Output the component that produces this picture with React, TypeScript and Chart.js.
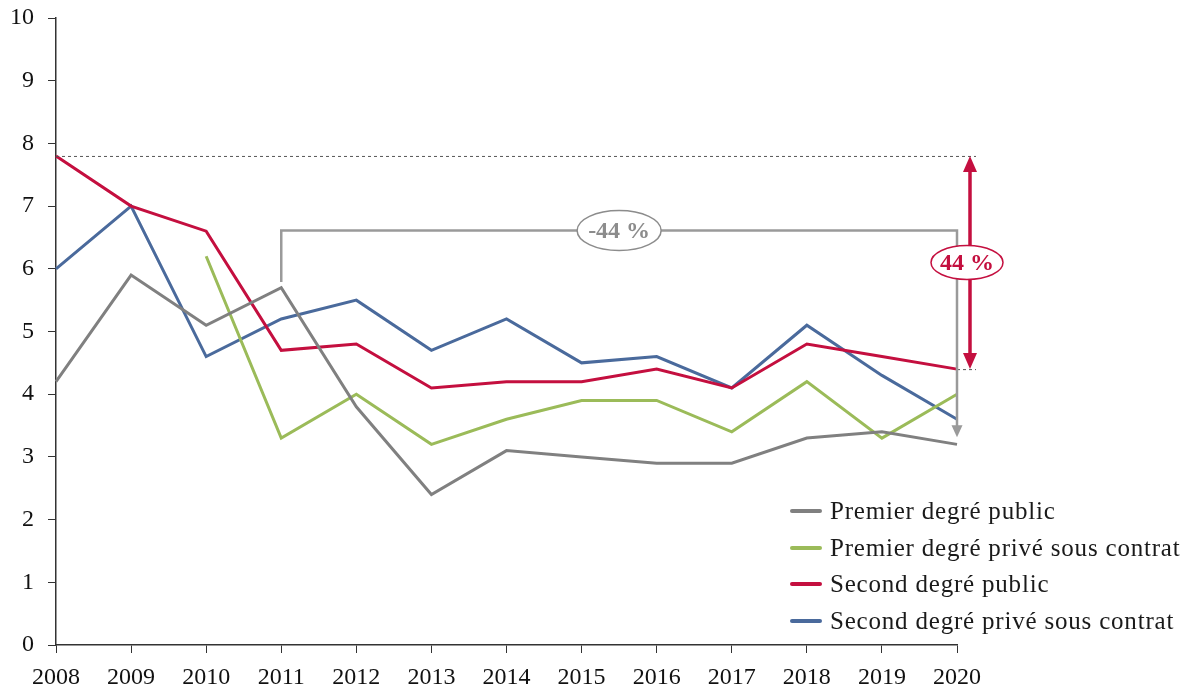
import React, { useEffect, useRef } from "react";
import { Chart, registerables } from "chart.js";

Chart.register(...registerables);

const years = ["2008", "2009", "2010", "2011", "2012", "2013", "2014", "2015", "2016", "2017", "2018", "2019", "2020"];
const premierPublic = [4.2, 5.9, 5.1, 5.7, 3.8, 2.4, 3.1, 3.0, 2.9, 2.9, 3.3, 3.4, 3.2];
const premierPrive = [null, null, 6.2, 3.3, 4.0, 3.2, 3.6, 3.9, 3.9, 3.4, 4.2, 3.3, 4.0];
const secondPublic = [7.8, 7.0, 6.6, 4.7, 4.8, 4.1, 4.2, 4.2, 4.4, 4.1, 4.8, 4.6, 4.4];
const secondPrive = [6.0, 7.0, 4.6, 5.2, 5.5, 4.7, 5.2, 4.5, 4.6, 4.1, 5.1, 4.3, 3.6];
const seriesLabels = [
  "Premier degré public",
  "Premier degré privé sous contrat",
  "Second degré public",
  "Second degré privé sous contrat",
];
const seriesColors = ["#808080", "#9BBB59", "#C40F3F", "#4A6A9C"];
const redLabel = "44 %";
const grayLabel = "-44 %";
const bracketTop = 6.61;
const bracketStart = 5.79;

const FONT = "'Liberation Serif', 'Times New Roman', serif";

function arrowHead(ctx: CanvasRenderingContext2D, x: number, y: number, dir: number, w: number, l: number) {
  ctx.beginPath();
  ctx.moveTo(x, y);
  ctx.lineTo(x - w / 2, y - dir * l);
  ctx.lineTo(x + w / 2, y - dir * l);
  ctx.closePath();
  ctx.fill();
}

function labelEllipse(ctx: CanvasRenderingContext2D, cx: number, cy: number, rx: number, ry: number, color: string, text: string) {
  ctx.beginPath();
  ctx.ellipse(cx, cy, rx, ry, 0, 0, Math.PI * 2);
  ctx.fillStyle = "#fff";
  ctx.fill();
  ctx.lineWidth = 1.5;
  ctx.strokeStyle = color;
  ctx.stroke();
  ctx.fillStyle = color;
  ctx.font = `bold 24px ${FONT}`;
  ctx.textAlign = "center";
  ctx.textBaseline = "middle";
  ctx.fillText(text, cx, cy + 1);
}

const annotationPlugin = {
  id: "annotations",
  afterDatasetsDraw(chart: any) {
    const { ctx, scales } = chart;
    const x = scales.x;
    const y = scales.y;
    const last = years.length - 1;
    const x0 = x.getPixelForValue(0);
    const xl = x.getPixelForValue(last);
    const yTop = y.getPixelForValue(secondPublic[0]);
    const yBot = y.getPixelForValue(secondPublic[last]);
    ctx.save();
    ctx.strokeStyle = "#555";
    ctx.lineWidth = 1;
    ctx.setLineDash([3, 3]);
    ctx.beginPath();
    ctx.moveTo(x0, yTop + 0.5);
    ctx.lineTo(xl + 19, yTop + 0.5);
    ctx.moveTo(xl, yBot + 0.5);
    ctx.lineTo(xl + 19, yBot + 0.5);
    ctx.stroke();
    ctx.setLineDash([]);

    const gx1 = x.getPixelForValue(3);
    const gTop = y.getPixelForValue(bracketTop);
    const gStart = y.getPixelForValue(bracketStart);
    const gEnd = y.getPixelForValue(premierPublic[last]) - 7;
    ctx.strokeStyle = "#9A9A9A";
    ctx.fillStyle = "#9A9A9A";
    ctx.lineWidth = 2.5;
    ctx.beginPath();
    ctx.moveTo(gx1, gStart);
    ctx.lineTo(gx1, gTop);
    ctx.lineTo(xl, gTop);
    ctx.lineTo(xl, gEnd - 10);
    ctx.stroke();
    arrowHead(ctx, xl, gEnd, 1, 11, 12);

    const rx = xl + 13;
    ctx.strokeStyle = "#C40F3F";
    ctx.fillStyle = "#C40F3F";
    ctx.lineWidth = 3.5;
    ctx.beginPath();
    ctx.moveTo(rx, yTop + 14);
    ctx.lineTo(rx, yBot - 14);
    ctx.stroke();
    arrowHead(ctx, rx, yTop, -1, 14, 16);
    arrowHead(ctx, rx, yBot, 1, 14, 16);

    labelEllipse(ctx, (gx1 + xl) / 2, gTop, 42, 20, "#8C8C8C", grayLabel);
    labelEllipse(ctx, rx - 3, y.getPixelForValue(6.1), 36, 17, "#C40F3F", redLabel);

    const lx = 790;
    const ly = [511, 548, 584, 621];
    ctx.font = `25px ${FONT}`;
    (ctx as any).letterSpacing = "0.8px";
    ctx.textAlign = "left";
    ctx.textBaseline = "middle";
    seriesLabels.forEach((lab, i) => {
      ctx.strokeStyle = seriesColors[i];
      ctx.lineWidth = 4;
      ctx.lineCap = "round";
      ctx.beginPath();
      ctx.moveTo(lx + 2, ly[i]);
      ctx.lineTo(lx + 30, ly[i]);
      ctx.stroke();
      ctx.fillStyle = "#1a1a1a";
      ctx.fillText(lab, lx + 40, ly[i] + 1);
    });
    (ctx as any).letterSpacing = "0px";
    ctx.restore();
  },
};

export default function App() {
  const ref = useRef<HTMLCanvasElement>(null);
  useEffect(() => {
    if (!ref.current) return;
    const all = [premierPublic, premierPrive, secondPublic, secondPrive];
    const chart = new Chart(ref.current, {
      type: "line",
      data: {
        labels: years,
        datasets: all.map((d, i) => ({
          label: seriesLabels[i],
          data: d,
          borderColor: seriesColors[i],
          backgroundColor: seriesColors[i],
          borderWidth: 3,
          pointRadius: 0,
          tension: 0,
          spanGaps: false,
        })),
      },
      options: {
        animation: false,
        responsive: false,
        maintainAspectRatio: false,
        layout: { padding: { left: 0, right: 235, top: 18, bottom: 0 } },
        plugins: { legend: { display: false }, tooltip: { enabled: false } },
        scales: {
          x: {
            type: "category",
            offset: false,
            grid: { display: true, drawOnChartArea: false, drawTicks: true, tickLength: 8, color: "#333", lineWidth: 1 },
            border: { display: true, color: "#333", width: 1.5 },
            ticks: { color: "#111", font: { family: FONT, size: 24 }, padding: 10, maxRotation: 0, autoSkip: false },
            afterFit: (s: any) => { s.height = 44; },
          },
          y: {
            min: 0,
            max: 10,
            grid: { display: true, drawOnChartArea: false, drawTicks: true, tickLength: 8, color: "#333", lineWidth: 1 },
            border: { display: true, color: "#333", width: 1.5 },
            ticks: { stepSize: 1, color: "#111", font: { family: FONT, size: 24 }, padding: 14 },
            afterFit: (s: any) => { s.width = 56; s.paddingTop = 0; s.paddingBottom = 0; },
          },
        },
      },
      plugins: [annotationPlugin],
    });
    return () => chart.destroy();
  }, []);
  return (
    <div style={{ position: "fixed", left: 0, top: 0, width: 1192, height: 689, background: "#fff" }}>
      <canvas ref={ref} width={1192} height={689} style={{ width: 1192, height: 689, display: "block" }} />
    </div>
  );
}
